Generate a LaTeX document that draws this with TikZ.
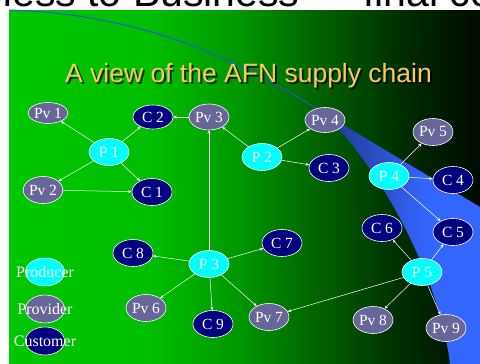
\documentclass[tikz,border=0pt]{standalone}
\usepackage{fontspec}
\setmainfont{Liberation Serif}
\newfontfamily\headfont{Liberation Sans}
\usetikzlibrary{shapes.geometric,arrows.meta}

% slide background: bright green fading to black on the right
\pgfdeclarehorizontalshading{slidegreen}{100bp}{rgb(0bp)=(0,0.78,0); rgb(25bp)=(0,0.78,0); rgb(40bp)=(0,0.745,0); rgb(49.5bp)=(0,0.59,0); rgb(55.9bp)=(0,0.43,0); rgb(66.5bp)=(0,0.18,0); rgb(75bp)=(0,0.04,0); rgb(100bp)=(0,0.04,0)}
% blue swoosh: dark where it starts, bright towards the right edge
\pgfdeclarehorizontalshading{swoosh}{100bp}{rgb(0bp)=(0.12,0.22,0.58); rgb(25bp)=(0.12,0.22,0.58); rgb(41.7bp)=(0.17,0.30,0.76); rgb(58.3bp)=(0.2,0.4,1); rgb(100bp)=(0.2,0.4,1)}

\definecolor{prodcyan}{RGB}{0,255,255}
\definecolor{provgray}{RGB}{102,102,153}
\definecolor{custnavy}{RGB}{0,0,128}
\definecolor{titlegold}{RGB}{247,200,98}
\definecolor{swooshline}{RGB}{40,80,230}

\begin{document}
\begin{tikzpicture}[x=1pt,y=-1pt,
  every node/.style={font=\fontsize{15.5}{17}\selectfont, text=white},
  bubble/.style={ellipse, draw=white, line width=0.6pt, minimum width=40pt,
    minimum height=27pt, inner sep=0pt},
  producer/.style={bubble, fill=prodcyan},
  provider/.style={bubble, fill=provgray},
  customer/.style={bubble, fill=custnavy},
  link/.style={draw=white, line width=0.5pt, -{Stealth[length=3.5pt,width=3pt]}},
  legendtext/.style={font=\fontsize{16}{18}\selectfont, text=white, inner sep=0pt}]

\useasboundingbox (0,0) rectangle (480,364);
\fill[white] (0,0) rectangle (480,364);

% heading of the slide above, cut by the frame
\begin{scope}
  \clip (0,0) rectangle (480,10);
  \node[anchor=base west, inner sep=0pt, text=black,
        font=\headfont\fontsize{41}{44}\selectfont]
    at (133,6) {\llap{Business to }Business — final co};
\end{scope}

% slide area
\shade[shading=slidegreen] (9,10) rectangle (480,364);

% blue swoosh
\shade[shading=swoosh] (322,112) -- (480,207) -- (480,364) -- (450,364)
  .. controls (440,280) and (382,168) .. (322,112) -- cycle;
\draw[swooshline, line width=0.9pt] (9,10) .. controls (150,14) and (250,66) .. (322,112);

% title with its drop shadow
\node[anchor=base, inner sep=0pt, text=black, opacity=0.7,
      font=\headfont\fontsize{26.5}{30}\selectfont]
  at (250.5,84) {A view of the AFN supply chain};
\node[anchor=base, inner sep=0pt, text=titlegold,
      font=\headfont\fontsize{26.5}{30}\selectfont]
  (title) at (248.5,82) {A view of the AFN supply chain};

% producers
\node[producer] (p1) at (109,152) {P 1};
\node[producer] (p2) at (262,157) {P 2};
\node[producer] (p3) at (209,264) {P 3};
\node[producer] (p4) at (389,176) {P 4};
\node[producer] (p5) at (422,272) {P 5};

% providers
\node[provider, minimum height=21pt] (pv1) at (48,113) {Pv 1};
\node[provider, minimum width=38pt] (pv2) at (43,190) {Pv 2};
\node[provider, minimum height=26pt] (pv3) at (209,117) {Pv 3};
\node[provider, minimum height=25pt] (pv4) at (325,120) {Pv 4};
\node[provider] (pv5) at (433,132) {Pv 5};
\node[provider] (pv6) at (146,308) {Pv 6};
\node[provider] (pv7) at (269,317) {Pv 7};
\node[provider] (pv8) at (373,320) {Pv 8};
\node[provider] (pv9) at (446,328) {Pv 9};

% customers
\node[customer] (c1) at (152,192) {C 1};
\node[customer, minimum height=24pt] (c2) at (153,117) {C 2};
\node[customer] (c3) at (329,168) {C 3};
\node[customer] (c4) at (453,180) {C 4};
\node[customer] (c5) at (453,232) {C 5};
\node[customer] (c6) at (382,228) {C 6};
\node[customer] (c7) at (282,243) {C 7};
\node[customer] (c8) at (133,253) {C 8};
\node[customer] (c9) at (213,324) {C 9};

% flows
\draw[link] (p1) -- (pv1);
\draw[link] (p1) -- (c2);
\draw[link] (p1) -- (pv2);
\draw[link] (p1) -- (c1);
\draw[link] (pv2) -- (c1);
\draw[link] (pv3) -- (c2);
\draw[link] (p3) -- (pv3);
\draw[link] (p2) -- (pv3);
\draw[link] (p2) -- (pv4);
\draw[link] (p2) -- (c3);
\draw[link] (p4) -- (pv5);
\draw[link] (p4) -- (c4);
\draw[link] (p4) -- (c5);
\draw[link] (p5) -- (c6);
\draw[link] (p5) -- (c5);
\draw[link] (p5) -- (pv8);
\draw[link] (p5) -- (pv9);
\draw[link] (p5) -- (pv7);
\draw[link] (p3) -- (c8);
\draw[link] (p3) -- (c7);
\draw[link] (p3) -- (pv6);
\draw[link] (p3) -- (c9);
\draw[link] (p3) -- (pv7);

% legend
\node[producer, minimum width=39pt, minimum height=28pt] (lprod) at (45,272) {};
\node[provider, minimum width=39pt, minimum height=28pt] (lprov) at (45,309) {};
\node[customer, minimum width=39pt, minimum height=28pt] (lcust) at (45,341) {};
\node[legendtext] at (lprod) {Producer};
\node[legendtext] at (lprov) {Provider};
\node[legendtext] at (lcust) {Customer};
\end{tikzpicture}
\end{document}
